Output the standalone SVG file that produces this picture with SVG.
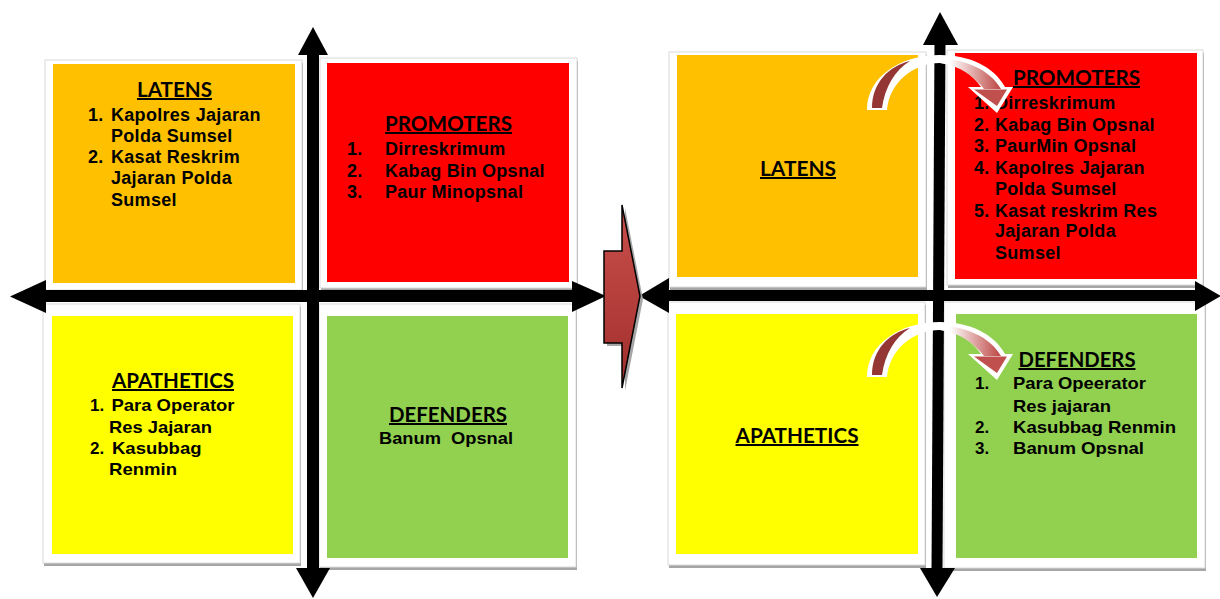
<svg xmlns="http://www.w3.org/2000/svg" width="1220" height="599" viewBox="0 0 1220 599">
<style>
.shadow{fill:#A6A6A6}
.frame{fill:#fff;stroke:#DADADA;stroke-width:1}
.title{font-family:Lato,"Open Sans","Liberation Sans",sans-serif;font-weight:700;font-size:20px;text-anchor:middle;text-decoration:underline;fill:#000}
.item{font-family:"Liberation Sans",Arial,sans-serif;font-weight:700;font-size:18px;letter-spacing:0.3px;fill:#000}
.item2{font-family:"Liberation Sans",Arial,sans-serif;font-weight:700;font-size:17px;fill:#000;white-space:pre}
.ax{fill:#000}
</style>
<defs>
<linearGradient id="gBig" x1="0" y1="0" x2="0" y2="1"><stop offset="0" stop-color="#C9504C"/><stop offset="1" stop-color="#A12E2B"/></linearGradient>
<linearGradient id="gBand" gradientUnits="userSpaceOnUse" x1="950" y1="0" x2="998" y2="0"><stop offset="0" stop-color="#ffffff"/><stop offset="1" stop-color="#C0504D"/></linearGradient>
<g id="curved">
<path d="M867,110 C867,77 900,55 940,55 C970,55 994,67 1005,87 L1013,87 L997,113 L968,87 L981,87 C972,74 958,64 940,63 C912,63 889,84 887,110 Z" fill="#fff"/>
<path d="M872,108 C872,83 889,66 910,61 C895,70 885,87 882,108 Z" fill="#943634"/>
<path d="M930,58 C966,58 990,70 1001,89 L984,89 C974,76 960,66 940,63 Z" fill="url(#gBand)"/>
<path d="M974,89.5 L1007,89.5 L997,106 Z" fill="#C0504D"/>
</g>
</defs>
<rect width="1220" height="599" fill="#fff"/>

<g id="left-latens">
<rect class="shadow" x="46" y="63" width="257" height="230"/>
<rect class="frame" x="45" y="60" width="257" height="230"/>
<rect x="53" y="64" width="242" height="219" fill="#FFC000"/>
<text class="title" x="174.5" y="97" textLength="75" lengthAdjust="spacingAndGlyphs">LATENS</text>
<text class="item" x="88" y="121">1.</text><text class="item" x="111" y="121">Kapolres Jajaran</text>
<text class="item" x="111" y="142">Polda Sumsel</text>
<text class="item" x="88" y="163">2.</text><text class="item" x="111" y="163">Kasat Reskrim</text>
<text class="item" x="111" y="184">Jajaran Polda</text>
<text class="item" x="111" y="206">Sumsel</text>
</g>

<g id="left-promoters">
<rect class="shadow" x="321" y="61" width="257" height="230"/>
<rect class="frame" x="320" y="58" width="257" height="230"/>
<rect x="327" y="63" width="242" height="219" fill="#FF0000"/>
<text class="title" x="448.5" y="131" textLength="127" lengthAdjust="spacingAndGlyphs">PROMOTERS</text>
<text class="item" x="347" y="155">1.</text><text class="item" x="385" y="155">Dirreskrimum</text>
<text class="item" x="347" y="177">2.</text><text class="item" x="385" y="177">Kabag Bin Opsnal</text>
<text class="item" x="347" y="198">3.</text><text class="item" x="385" y="198">Paur Minopsnal</text>
</g>

<g id="left-apathetics">
<rect class="shadow" x="44" y="307" width="257" height="259"/>
<rect class="frame" x="43" y="304" width="257" height="259"/>
<rect x="52" y="316" width="241" height="238" fill="#FFFF00"/>
<text class="title" x="173" y="388" textLength="122" lengthAdjust="spacingAndGlyphs">APATHETICS</text>
<text class="item2" x="90" y="411">1.</text><text class="item2" x="111.5" y="411" textLength="123" lengthAdjust="spacingAndGlyphs">Para Operator</text>
<text class="item2" x="109" y="433" textLength="103" lengthAdjust="spacingAndGlyphs">Res Jajaran</text>
<text class="item2" x="90" y="454">2.</text><text class="item2" x="112" y="454" textLength="89.5" lengthAdjust="spacingAndGlyphs">Kasubbag</text>
<text class="item2" x="109" y="475" textLength="68" lengthAdjust="spacingAndGlyphs">Renmin</text>
</g>

<g id="left-defenders">
<rect class="shadow" x="320" y="307" width="257" height="263"/>
<rect class="frame" x="319" y="304" width="257" height="263"/>
<rect x="327" y="316" width="241" height="242" fill="#92D050"/>
<text class="title" x="448" y="422" textLength="118" lengthAdjust="spacingAndGlyphs">DEFENDERS</text>
<text class="item2" x="379" y="444" textLength="134" lengthAdjust="spacingAndGlyphs">Banum  Opsnal</text>
</g>

<g id="right-latens">
<rect class="shadow" x="670" y="55" width="257" height="235"/>
<rect class="frame" x="669" y="52" width="257" height="235"/>
<rect x="677" y="55" width="241" height="222" fill="#FFC000"/>
<text class="title" x="798" y="176" textLength="76" lengthAdjust="spacingAndGlyphs">LATENS</text>
</g>

<g id="right-promoters">
<rect class="shadow" x="948" y="53" width="256" height="235"/>
<rect class="frame" x="947" y="50" width="256" height="235"/>
<rect x="955" y="53" width="242" height="226" fill="#FF0000"/>
<text class="title" x="1076.5" y="85" textLength="127" lengthAdjust="spacingAndGlyphs">PROMOTERS</text>
<text class="item" x="974" y="109">1.</text><text class="item" x="995" y="109">Dirreskrimum</text>
<text class="item" x="974" y="131">2.</text><text class="item" x="995" y="131">Kabag Bin Opsnal</text>
<text class="item" x="974" y="152">3.</text><text class="item" x="995" y="152">PaurMin Opsnal</text>
<text class="item" x="974" y="174">4.</text><text class="item" x="995" y="174">Kapolres Jajaran</text>
<text class="item" x="995" y="195">Polda Sumsel</text>
<text class="item" x="974" y="217">5.</text><text class="item" x="995" y="217">Kasat reskrim Res</text>
<text class="item" x="995" y="237">Jajaran Polda</text>
<text class="item" x="995" y="259">Sumsel</text>
</g>

<g id="right-apathetics">
<rect class="shadow" x="669" y="305" width="257" height="263"/>
<rect class="frame" x="668" y="302" width="257" height="263"/>
<rect x="676" y="314" width="242" height="240" fill="#FFFF00"/>
<text class="title" x="797" y="443" textLength="123" lengthAdjust="spacingAndGlyphs">APATHETICS</text>
</g>

<g id="right-defenders">
<rect class="shadow" x="945" y="305" width="261" height="266"/>
<rect class="frame" x="944" y="302" width="261" height="266"/>
<rect x="956" y="314" width="241" height="244" fill="#92D050"/>
<text class="title" x="1077" y="367" textLength="117" lengthAdjust="spacingAndGlyphs">DEFENDERS</text>
<text class="item2" x="975" y="389">1.</text><text class="item2" x="1013" y="389" textLength="133" lengthAdjust="spacingAndGlyphs">Para Opeerator</text>
<text class="item2" x="1013" y="412" textLength="98" lengthAdjust="spacingAndGlyphs">Res jajaran</text>
<text class="item2" x="975" y="433">2.</text><text class="item2" x="1013" y="433" textLength="163" lengthAdjust="spacingAndGlyphs">Kasubbag Renmin</text>
<text class="item2" x="975" y="454">3.</text><text class="item2" x="1013" y="454" textLength="131" lengthAdjust="spacingAndGlyphs">Banum Opsnal</text>
</g>

<g id="connectors">
<rect class="ax" x="40" y="290" width="537" height="12"/>
<polygon class="ax" points="10,296.5 46,280 46,313"/>
<polygon class="ax" points="606,296 572,281 572,312"/>
<rect class="ax" x="307" y="50" width="12" height="522"/>
<polygon class="ax" points="313,27 298,55 328,55"/>
<polygon class="ax" points="313,598 296,568 330,568"/>
<rect class="ax" x="665" y="290" width="535" height="11"/>
<polygon class="ax" points="639,296 669,278 669,313"/>
<polygon class="ax" points="1221,296 1195,281 1195,311"/>
<polygon class="ax" points="934.5,42 945.5,42 942.5,571 931.5,571"/>
<polygon class="ax" points="940,12 923,45 958,45"/>
<polygon class="ax" points="937,597 920,568 955,568"/>
<polygon points="607,254 625,254 625,208 643,299 625,391 625,346 607,346" fill="#A6A6A6"/>
<polygon points="604,251 622,251 622,205 640,296 622,388 622,343 604,343" fill="url(#gBig)" stroke="#000" stroke-width="1.5" stroke-linejoin="miter"/>
<use href="#curved"/>
<use href="#curved" y="267"/>
</g>
</svg>
